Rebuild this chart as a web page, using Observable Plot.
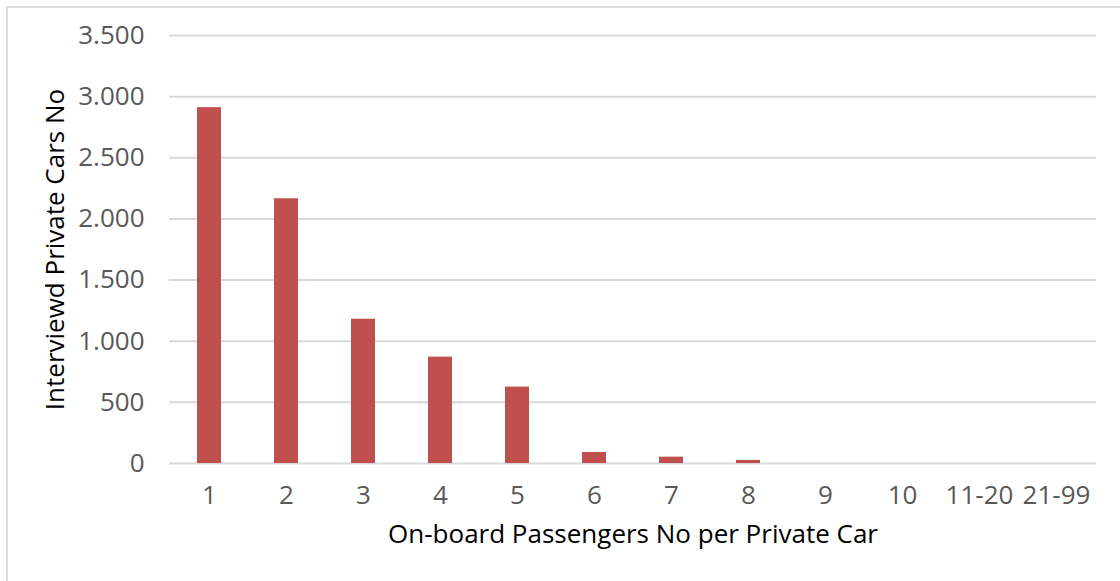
<!DOCTYPE html>
<html>
<head>
<meta charset="utf-8">
<script src="https://cdn.jsdelivr.net/npm/d3@7"></script>
<script src="https://cdn.jsdelivr.net/npm/@observablehq/plot@0.6"></script>
<style>
  html, body { margin: 0; padding: 0; background: #fff; overflow: hidden; }
  #wrap { position: relative; width: 1120px; height: 581px; overflow: hidden; }
  #border { position: absolute; left: 6px; top: 6px; width: 1130px; height: 590px; border: 2px solid #dcdcdc; box-sizing: border-box; }
  #chart { position: absolute; left: 0; top: 0; }
</style>
</head>
<body>
<div id="wrap"><div id="border"></div><div id="chart"></div></div>
<script>
const categories = ["1", "2", "3", "4", "5", "6", "7", "8", "9", "10", "11-20", "21-99"];
const cars = [2910, 2165, 1180, 870, 625, 90, 52, 25, 0, 0, 0, 0];
const yTicks = [0, 500, 1000, 1500, 2000, 2500, 3000, 3500];
const xTitle = "On-board Passengers No per Private Car";
const yTitle = "Interviewd Private Cars No";

const data = categories.map((c, i) => ({category: c, value: cars[i]}));
const fmt = d => d3.format(",")(d).replace(/,/g, ".");

const chart = Plot.plot({
  width: 1120,
  height: 581,
  marginLeft: 169,
  marginRight: 24,
  marginTop: 35,
  marginBottom: 118,
  style: {fontFamily: "'Open Sans', sans-serif", fontSize: "26px", background: "transparent"},
  x: {domain: categories, paddingInner: 0.69, paddingOuter: 0.345, label: null},
  y: {domain: [0, 3500], label: null},
  marks: [
    Plot.gridY(yTicks, {stroke: "#d9d9d9", strokeOpacity: 1, strokeWidth: 2}),
    Plot.barY(data, {x: "category", y: "value", fill: "#C0504D"}),
    Plot.axisY(yTicks, {tickSize: 0, tickPadding: 25, tickFormat: fmt, color: "#595959", fontSize: 26,
      label: yTitle, labelAnchor: "center", labelOffset: 124, labelArrow: "none"}),
    Plot.axisX({tickSize: 0, tickPadding: 22, color: "#595959", fontSize: 26,
      label: xTitle, labelAnchor: "center", labelOffset: 79, labelArrow: "none"})
  ]
});
document.getElementById("chart").appendChild(chart);
chart.querySelectorAll("g[aria-label='y-axis label'] text, g[aria-label='x-axis label'] text").forEach(t => {
  t.setAttribute("fill", "#000");
  t.textContent = t.textContent.replace(/\s*[↑→↓←]\s*/g, "").trim();
});
</script>
</body>
</html>
